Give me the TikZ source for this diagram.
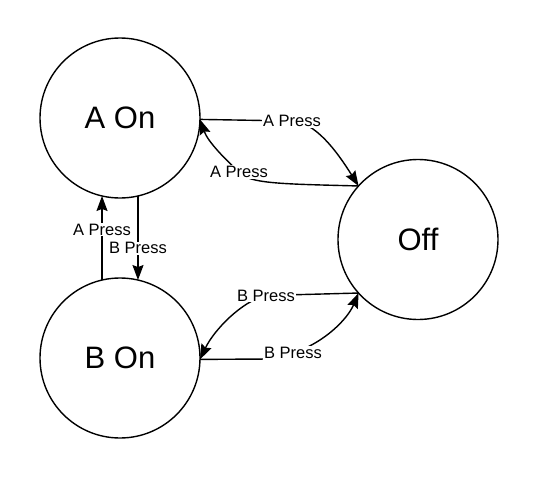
\documentclass[tikz,border=0pt]{standalone}
\usepackage{fontspec}
\setmainfont{Liberation Sans}
\usetikzlibrary{arrows.meta}
\begin{document}
\begin{tikzpicture}[x=1pt,y=-1pt,
  state/.style={draw,circle,line width=1.4pt,minimum size=160pt,inner sep=0pt,outer sep=0pt,font=\fontsize{31}{36}\selectfont},
  lbl/.style={fill=white,inner sep=0.8pt,font=\fontsize{16.5}{19}\selectfont},
  arr/.style={line width=1.4pt,-{Stealth[length=15pt,width=11pt,inset=2pt]}},
  conn/.style={line width=1.4pt}]
\useasboundingbox (0,0) rectangle (539,480);
\node[state] (a) at (120,118) {A On};
\node[state] (b) at (120,358) {B On};
\node[state] (off) at (418,239.5) {Off};
% A -> Off
\draw[arr] (a.-1) -- (292,121) node[lbl]{A Press} .. controls (315,122) and (336,150) .. (off.138);
% Off -> A
\draw[arr] (off.138) .. controls (285,184) and (248,184) .. (239,172) node[lbl]{A Press} .. controls (226,160) and (208,142) .. (a.-1);
% A -> B
\draw[arr] (a.-77) -- (b.77) node[lbl,pos=0.62]{B Press};
% B -> A
\draw[arr] (b.103) -- (a.-103) node[lbl,pos=0.6]{A Press};
% Off -> B
\draw[arr] (off.222) -- (266,295.5) node[lbl]{B Press} .. controls (242,301) and (214,330) .. (b.-1);
% B -> Off
\draw[arr] (b.-1) -- (270,359) .. controls (280,359) .. (293,353) node[lbl]{B Press} .. controls (326,342) and (348,318) .. (off.222);
\end{tikzpicture}
\end{document}
